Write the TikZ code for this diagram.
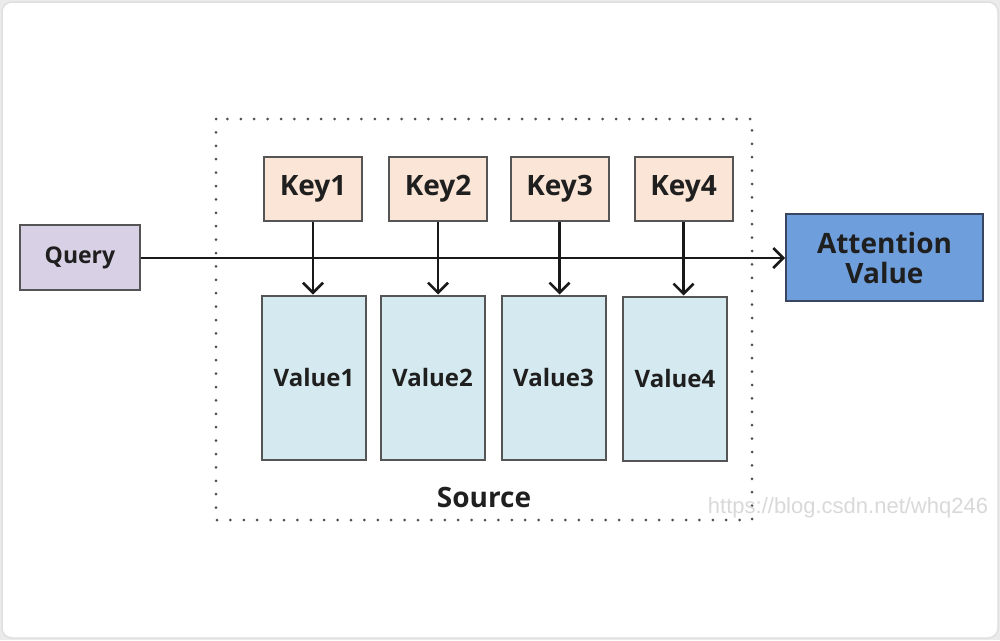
\documentclass[tikz,border=0pt]{standalone}
\usepackage{fontspec}
\setmainfont{Open Sans}
\usetikzlibrary{arrows.meta}
\definecolor{keyfill}{HTML}{FBE5D6}
\definecolor{valfill}{HTML}{D5EAF0}
\definecolor{qfill}{HTML}{D8D0E4}
\definecolor{afill}{HTML}{6E9EDC}
\definecolor{aline}{HTML}{3A4660}
\definecolor{boxline}{HTML}{555555}
\definecolor{dotc}{HTML}{505050}
\tikzset{
  keybox/.style={draw=boxline, line width=2pt, fill=keyfill, minimum width=98pt, minimum height=64pt, inner sep=0pt, font=\bfseries\fontsize{28}{32}\selectfont, text=black!88},
  valbox/.style={draw=boxline, line width=2pt, fill=valfill, minimum width=104pt, minimum height=164pt, inner sep=0pt, font=\bfseries\fontsize{24}{28}\selectfont, text=black!88},
  conn/.style={line width=2.5pt, black!90, -{Straight Barb[length=10pt,width=20pt,line width=2.5pt]}},
}
\begin{document}
\begin{tikzpicture}[x=1pt,y=-1pt]
\useasboundingbox (0,0) rectangle (1000,640);
\fill[black!8] (0,0) rectangle (1000,640);
\draw[fill=white, draw=black!12, line width=1.5pt, rounded corners=10pt] (2,2) rectangle (998,638);
% source dotted box
\draw[dotc, line width=3pt, line cap=round, dash pattern=on 0pt off 13.4pt] (216,119) rectangle (752,520);
% keys
\node[keybox] (k1) at (313,189) {Key1};
\node[keybox] (k2) at (438,189) {Key2};
\node[keybox] (k3) at (559.5,189) {Key3};
\node[keybox] (k4) at (683.5,189) {Key4};
% values
\node[valbox] (v1) at (314,377.5) {Value1};
\node[valbox] (v2) at (432.5,377.5) {Value2};
\node[valbox] (v3) at (553.5,377.5) {Value3};
\node[valbox] (v4) at (675,378.5) {Value4};
% query
\node[draw=boxline, line width=2pt, fill=qfill, minimum width=120pt, minimum height=65pt, inner sep=0pt, font=\bfseries\fontsize{23}{27}\selectfont, text=black!88] (q) at (80,257.5) {Query};
% attention
\node[draw=aline, line width=2pt, fill=afill, minimum width=197pt, minimum height=87pt, inner sep=0pt, align=center, font=\bfseries\fontsize{28}{30}\selectfont, text=black!88] (a) at (884.5,257.5) {Attention\\Value};
% connectors
\draw[conn] (q.east |- 0,258) -- (a.west |- 0,258);
\draw[conn] (k1.south) -- (k1.south |- v1.north);
\draw[conn] (k2.south) -- (k2.south |- v2.north);
\draw[conn] (k3.south) -- (k3.south |- v3.north);
\draw[conn] (k4.south) -- (k4.south |- v4.north);
% source label
\node[font=\bfseries\fontsize{28}{32}\selectfont, text=black!88] (src) at (484,497) {Source};
% watermark
\node[font=\fontsize{22}{26}\selectfont, text=black!15] (wm) at (848,508) {\fontspec{Liberation Sans}https://blog.csdn.net/whq246};
\end{tikzpicture}
\end{document}
